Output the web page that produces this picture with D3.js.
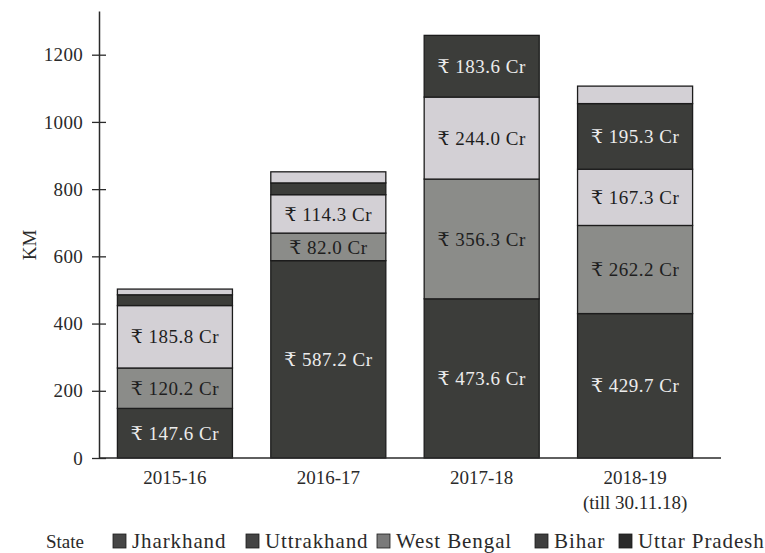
<!DOCTYPE html>
<html>
<head>
<meta charset="utf-8">
<script src="https://cdn.jsdelivr.net/npm/d3@7"></script>
<style>
  html, body { margin: 0; padding: 0; background: #ffffff; }
  svg { display: block; }
  text { font-family: "Liberation Serif", "DejaVu Serif", serif; }
</style>
</head>
<body>
<svg id="chart" width="765" height="553"></svg>
<script>
// Financial years on the x axis
const years = ["2015-16", "2016-17", "2017-18", "2018-19"];
const yearNotes = ["", "", "", "(till 30.11.18)"];

// Kilometres per state, stacked bottom to top
const uttarPradesh = [147.6, 587.2, 473.6, 429.7];
const bihar        = [120.2, 82.0, 356.3, 262.2];
const westBengal   = [185.8, 114.3, 244.0, 167.3];
const uttrakhand   = [32, 35, 183.6, 195.3];
const jharkhand    = [17, 33, 0, 52];

// Which segments carry a value label
const labelled = {
  "Uttar Pradesh": [true, true, true, true],
  "Bihar":         [true, true, true, true],
  "West Bengal":   [true, true, true, true],
  "Uttrakhand":    [false, false, true, true],
  "Jharkhand":     [false, false, false, false]
};

const yTicks = [0, 200, 400, 600, 800, 1000, 1200];
const legendOrder = ["Jharkhand", "Uttrakhand", "West Bengal", "Bihar", "Uttar Pradesh"];

const stackKeys = ["Uttar Pradesh", "Bihar", "West Bengal", "Uttrakhand", "Jharkhand"];
const seriesValues = {
  "Uttar Pradesh": uttarPradesh,
  "Bihar": bihar,
  "West Bengal": westBengal,
  "Uttrakhand": uttrakhand,
  "Jharkhand": jharkhand
};

const barFill = {
  "Uttar Pradesh": "#3c3d3a",
  "Bihar": "#8b8c89",
  "West Bengal": "#d3d0d5",
  "Uttrakhand": "#3c3d3a",
  "Jharkhand": "#d3d0d5"
};
const swatchFill = {
  "Jharkhand": "#464646",
  "Uttrakhand": "#444444",
  "West Bengal": "#7a7a7a",
  "Bihar": "#3e3e3e",
  "Uttar Pradesh": "#2b2b2b"
};
const labelColor = {
  "Uttar Pradesh": "#ececec",
  "Bihar": "#1e1e1e",
  "West Bengal": "#1e1e1e",
  "Uttrakhand": "#ececec",
  "Jharkhand": "#1e1e1e"
};

const rows = years.map((yr, i) => {
  const r = { year: yr, idx: i };
  stackKeys.forEach(k => r[k] = seriesValues[k][i]);
  return r;
});

const svg = d3.select("#chart");

const x = d3.scaleBand()
  .domain(years)
  .range([99, 711])
  .paddingInner(0.25)
  .paddingOuter(0.12);

const y = d3.scaleLinear()
  .domain([0, 1330])
  .range([458, 11]);

const stacked = d3.stack().keys(stackKeys)(rows);

// Bars
const layer = svg.append("g");
stacked.forEach(s => {
  const key = s.key;
  layer.selectAll(null)
    .data(s.filter(d => d[1] - d[0] > 0))
    .enter()
    .append("rect")
    .attr("x", d => x(d.data.year))
    .attr("y", d => y(d[1]))
    .attr("width", x.bandwidth())
    .attr("height", d => y(d[0]) - y(d[1]))
    .attr("fill", barFill[key])
    .attr("stroke", "#1c1c1c")
    .attr("stroke-width", 1.3);
});

// Segment value labels
stacked.forEach(s => {
  const key = s.key;
  layer.selectAll(null)
    .data(s.filter(d => labelled[key][d.data.idx]))
    .enter()
    .append("text")
    .attr("x", d => x(d.data.year) + x.bandwidth() / 2)
    .attr("y", d => y((d[0] + d[1]) / 2))
    .attr("dy", "0.35em")
    .attr("text-anchor", "middle")
    .attr("font-size", 19)
    .attr("letter-spacing", 0.5)
    .attr("fill", labelColor[key])
    .text(d => "₹ " + (d[1] - d[0]).toFixed(1) + " Cr");
});

// Y axis
const yAxis = d3.axisLeft(y)
  .tickValues(yTicks)
  .tickSizeInner(7)
  .tickSizeOuter(0)
  .tickPadding(8)
  .tickFormat(d3.format("d"));
const yG = svg.append("g").attr("transform", "translate(99,0)").call(yAxis);
yG.select(".domain").attr("stroke", "#2a2a2a").attr("stroke-width", 1.5);
yG.selectAll(".tick line")
  .attr("x1", -7).attr("x2", 7)
  .attr("stroke", "#2a2a2a").attr("stroke-width", 1.3);
yG.selectAll(".tick text")
  .attr("font-size", 19)
  .attr("letter-spacing", 0.3)
  .attr("font-family", "Liberation Serif, serif")
  .attr("fill", "#2a2a2a")
  .attr("x", -16);

// X axis baseline
svg.append("line")
  .attr("x1", 99).attr("x2", 721)
  .attr("y1", y(0)).attr("y2", y(0))
  .attr("stroke", "#2a2a2a").attr("stroke-width", 1.5);

// X labels
const xl = svg.append("g");
years.forEach((yr, i) => {
  const cx = x(yr) + x.bandwidth() / 2;
  xl.append("text")
    .attr("x", cx).attr("y", 484)
    .attr("text-anchor", "middle")
    .attr("font-size", 19)
    .attr("fill", "#2a2a2a")
    .text(yr);
  if (yearNotes[i]) {
    xl.append("text")
      .attr("x", cx).attr("y", 509)
      .attr("text-anchor", "middle")
      .attr("font-size", 19)
      .attr("fill", "#2a2a2a")
      .text(yearNotes[i]);
  }
});

// Y axis title
svg.append("text")
  .attr("transform", "translate(36,245) rotate(-90)")
  .attr("text-anchor", "middle")
  .attr("font-size", 19)
  .attr("fill", "#2a2a2a")
  .text("KM");

// Legend
const lg = svg.append("g").attr("transform", "translate(0,548)");
lg.append("text").attr("x", 46).attr("y", 0)
  .attr("font-size", 19).attr("fill", "#2a2a2a").text("State");
const legendX = [113, 246, 377, 535, 619];
legendOrder.forEach((k, i) => {
  lg.append("rect")
    .attr("x", legendX[i]).attr("y", -14)
    .attr("width", 13).attr("height", 14)
    .attr("fill", swatchFill[k])
    .attr("stroke", "#1c1c1c").attr("stroke-width", 0.8);
  lg.append("text")
    .attr("x", legendX[i] + 19).attr("y", 0)
    .attr("font-size", 21)
    .attr("letter-spacing", 0.9)
    .attr("fill", "#2a2a2a")
    .text(k);
});
</script>
</body>
</html>
